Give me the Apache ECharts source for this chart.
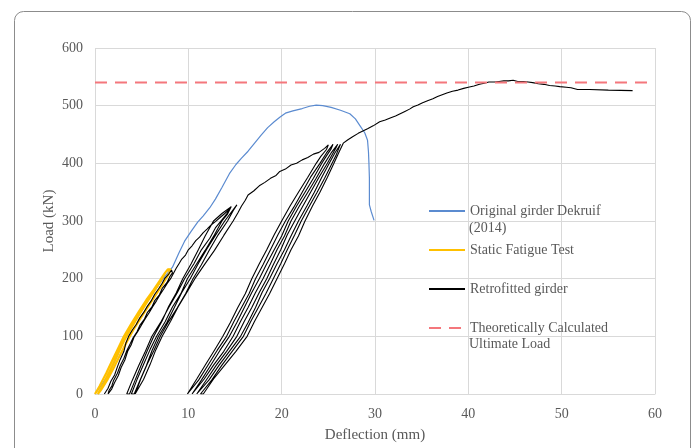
<!DOCTYPE html>
<html>
<head>
<meta charset="utf-8">
<script src="https://cdn.jsdelivr.net/npm/echarts@6/dist/echarts.min.js"></script>
<style>
  html, body { margin: 0; padding: 0; background: #ffffff; }
  #chart { width: 697px; height: 448px; }
</style>
</head>
<body>
<div id="chart"></div>
<script>
// ---- Data (deflection mm, load kN) ----
const seriesNames = ['Original girder Dekruif', 'Static Fatigue Test', 'Retrofitted girder', 'Theoretically Calculated'];
const legendSecondLines = ['(2014)', 'Ultimate Load'];
const xTicks = [0, 10, 20, 30, 40, 50, 60];
const yTicks = [0, 100, 200, 300, 400, 500, 600];

const originalGirder = [
  [0,0],[0.8,18],[1.6,38],[2.5,70],[3.3,100],[4.2,124],[5.2,150],[6.2,175],[7.2,198],[8.3,220],
  [9.0,245],[9.6,265],[10.3,282],[11.0,298],[11.6,309],[12.3,323],[12.9,338],[13.6,358],[14.4,382],
  [15.1,398],[15.7,409],[16.4,421],[17.1,435],[17.8,449],[18.5,462],[19.2,472],[19.8,480],[20.4,487],
  [21.2,491],[22.2,495],[23.0,499],[23.7,501],[24.4,500],[25.3,497],[26.3,492],[27.3,486],[27.9,477],
  [28.4,465],[28.9,453],[29.2,440],[29.3,420],[29.35,400],[29.4,375],[29.4,350],[29.4,328],[29.6,316],[29.9,301]
];

const staticFatigue = [
  [0,0],[0.5,14],[1.2,36],[1.9,60],[2.5,80],[3.1,100],[3.9,122],[4.7,143],[5.5,163],[6.3,181],[7.0,198],[7.5,210],[7.8,216],[8.1,216],
  [7.9,208],[7.3,192],[6.5,172],[5.7,152],[4.9,132],[4.1,111],[3.4,90],[2.7,68],[2.0,45],[1.3,24],[0.6,6],[0.3,0],
  [0.4,0],[1.0,20],[1.7,44],[2.4,68],[3.1,92],[3.8,112],[4.6,134],[5.4,155],[6.2,175],[7.0,195],[7.6,212],[8.0,217]
];

const retrofitted = [
  // first cycles
  [1.0,0],[1.4,10],[1.7,22],[2.1,33],[2.4,47],[2.7,60],[3.1,74],[3.3,88],[3.6,100],[4.0,111],[4.4,120],[4.8,132],
  [5.2,141],[5.6,152],[6.0,161],[6.4,173],[6.8,182],[7.2,192],[7.5,201],[7.9,208],[8.2,215],
  [8.3,210],[8.0,203],[7.7,193],[7.2,183],[6.9,172],[6.4,162],[6.1,151],[5.6,141],[5.3,130],[4.8,119],[4.5,108],
  [4.1,98],[3.8,88],[3.4,75],[3.1,62],[2.7,49],[2.4,36],[2.0,24],[1.8,14],[1.5,6],[1.4,0],
  [1.5,0],[1.8,9],[2.1,20],[2.5,32],[2.8,46],[3.2,59],[3.5,74],[3.9,86],[4.2,99],[4.6,109],[5.0,120],[5.4,131],
  [5.8,141],[6.2,152],[6.6,162],[7.0,173],[7.4,183],[7.7,191],[8.1,200],[8.4,209],[8.7,218],
  // envelope
  [9.0,226],[9.3,234],[9.7,241],[10.0,250],[10.4,257],[10.8,266],[11.2,272],[11.6,280],[12.0,286],[12.5,294],
  [12.9,299],[13.4,306],[13.9,313],[14.5,322],
  // second cycles
  [14.1,312],[13.6,302],[12.9,288],[12.3,270],[11.4,250],[10.6,226],[9.6,200],[8.8,175],[7.9,150],[7.1,126],[6.1,100],[5.4,74],[4.7,50],[4.0,24],[3.4,0],
  [3.7,0],[4.3,24],[5.0,52],[5.6,75],[6.3,100],[7.2,127],[7.9,152],[8.7,175],[9.4,200],[10.3,226],[11.1,251],[11.8,274],[12.7,300],[13.6,313],[14.6,325],
  [14.2,312],[13.6,300],[12.8,276],[11.8,249],[10.9,226],[9.9,200],[9.2,174],[8.3,151],[7.5,125],[6.6,100],[5.9,77],[5.2,51],[4.5,25],[3.9,0],
  [4.2,0],[4.8,23],[5.5,49],[6.1,75],[6.8,100],[7.7,124],[8.5,150],[9.3,176],[10.2,200],[11.1,227],[12.0,252],[12.9,275],[13.9,300],[14.5,313],[15.2,328],
  [14.8,318],[14.2,300],[13.2,276],[12.3,251],[11.4,224],[10.5,200],[9.7,174],[8.8,149],[7.9,126],[7.0,100],[6.3,75],[5.6,52],[4.9,26],[4.3,0],
  [4.5,0],[5.2,25],[5.9,51],[6.5,76],[7.2,100],[8.1,126],[8.9,151],[9.8,175],[10.7,200],[11.8,226],[12.8,249],[13.8,275],[14.8,300],[15.3,314],[15.7,326],[16.1,336],[16.4,345],
  // envelope
  [17.0,352],[17.6,361],[18.2,367],[18.8,374],[19.4,379],[19.8,386],[20.4,390],[21.0,397],[21.6,400],
  [22.2,406],[22.8,410],[23.4,416],[24.0,419],[24.6,426],[25.0,432],
  // third cycles
  [24.8,424],[24.2,412],[23.7,400],[22.8,376],[21.8,350],[20.9,326],[20.0,300],[19.2,276],[18.4,250],[17.6,226],[16.8,200],[16.1,174],[15.3,150],[14.5,124],[13.7,100],[12.8,76],[11.8,50],[10.9,26],[9.9,0],
  [10.1,0],[11.1,24],[12.1,50],[13.1,76],[14.1,100],[14.9,126],[15.7,150],[16.5,174],[17.2,200],[18.0,224],[18.8,250],[19.6,276],[20.4,300],[21.3,324],[22.2,350],[23.1,376],[24.1,400],[24.8,418],[25.5,433],
  [25.3,425],[24.8,413],[24.3,400],[23.4,374],[22.5,350],[21.6,326],[20.7,300],[20.0,274],[19.2,250],[18.4,226],[17.6,200],[16.8,176],[16.0,150],[15.2,124],[14.4,100],[13.4,76],[12.4,50],[11.4,24],[10.4,0],
  [10.6,0],[11.7,26],[12.7,50],[13.8,74],[14.8,100],[15.6,126],[16.4,150],[17.2,176],[18.0,200],[18.8,226],[19.5,250],[20.3,274],[21.0,300],[21.9,326],[22.8,350],[23.7,374],[24.6,400],[25.3,418],[26.0,433],
  [25.8,426],[25.3,412],[24.9,400],[24.0,376],[23.1,350],[22.2,324],[21.4,300],[20.6,276],[19.9,250],[19.1,224],[18.4,200],[17.6,176],[16.8,150],[16.0,126],[15.2,100],[14.1,74],[13.0,50],[12.0,26],[10.9,0],
  [11.1,0],[12.2,24],[13.3,50],[14.5,76],[15.6,100],[16.4,124],[17.2,150],[17.9,176],[18.7,200],[19.5,226],[20.3,250],[21.0,274],[21.8,300],[22.7,326],[23.5,350],[24.3,376],[25.1,400],[25.7,418],[26.3,433],
  [26.1,425],[25.8,413],[25.4,400],[24.6,374],[23.8,350],[22.9,324],[22.1,300],[21.4,276],[20.6,250],[19.9,226],[19.1,200],[18.3,174],[17.5,150],[16.7,126],[15.9,100],[14.8,76],[13.6,50],[12.5,24],[11.3,0],
  [11.6,0],[12.7,26],[13.9,50],[15.1,74],[16.3,100],[17.1,126],[17.9,150],[18.7,174],[19.5,200],[20.3,226],[21.0,250],[21.8,274],[22.5,300],[23.3,326],[24.1,350],[24.9,376],[25.6,400],[26.1,418],[26.6,435],
  // final envelope
  [27.1,441],[27.6,446],[28.2,452],[28.7,456],[29.2,460],[29.8,465],[30.5,472],[31.1,475],[31.7,479],
  [32.2,482],[32.7,486],[33.2,490],[33.7,494],[34.1,498],[34.6,501],[35.1,505],[35.7,509],[36.2,512],
  [36.7,516],[37.2,519],[37.7,522],[38.3,525],[38.9,527],[39.5,530],[40.0,532],[40.6,534],[41.2,537],
  [41.7,539],[42.2,541],[42.8,541],[43.3,542],[43.8,543],[44.3,543],[44.8,544],[45.3,542],[45.9,542],
  [46.4,541],[46.9,540],[47.5,538],[48.1,537],[48.7,535],[49.3,534],[49.8,533],[50.5,532],[51.0,531],
  [51.7,528],[53.0,528],[55.0,527],[57.6,526]
];

const theoreticalLoad = [[0,540],[60,540]];

// ---- Chart ----
const textColor = '#595959';
const fontFam = '"Liberation Serif", "DejaVu Serif", serif';

const chart = echarts.init(document.getElementById('chart'), null, { renderer: 'canvas' });

const option = {
  backgroundColor: '#ffffff',
  animation: false,
  textStyle: { fontFamily: fontFam },
  grid: { left: 95, right: 42, top: 48, bottom: 49, containLabel: false },
  xAxis: {
    type: 'value',
    min: xTicks[0], max: xTicks[xTicks.length - 1], interval: 10,
    name: 'Deflection (mm)', nameLocation: 'middle', nameGap: 34, nameMoveOverlap: false,
    nameTextStyle: { color: textColor, fontSize: 15, fontFamily: fontFam },
    axisLine: { show: true, lineStyle: { color: '#d9d9d9' } },
    axisTick: { show: false },
    axisLabel: { color: textColor, fontSize: 14, margin: 13, fontFamily: fontFam },
    splitLine: { show: true, lineStyle: { color: '#d9d9d9' } }
  },
  yAxis: {
    type: 'value',
    min: yTicks[0], max: yTicks[yTicks.length - 1], interval: 100,
    name: 'Load (kN)', nameLocation: 'middle', nameGap: 38, nameMoveOverlap: false,
    nameTextStyle: { color: textColor, fontSize: 15, fontFamily: fontFam },
    axisLine: { show: false },
    axisTick: { show: false },
    axisLabel: { color: textColor, fontSize: 14, margin: 12, fontFamily: fontFam },
    splitLine: { show: true, lineStyle: { color: '#d9d9d9' } }
  },
  legend: {
    orient: 'vertical',
    left: 428, top: 204, padding: 0,
    itemWidth: 36, itemHeight: 14, itemGap: 25,
    itemStyle: { opacity: 0 },
    textStyle: { color: textColor, fontSize: 14, fontFamily: fontFam },
    data: seriesNames
  },
  graphic: [
    { type: 'rect', shape: { x: 14.5, y: 11.5, width: 676, height: 470, r: 9 },
      style: { fill: 'none', stroke: '#8c8c8c', lineWidth: 1 }, z: -10, silent: true },
    { type: 'text', left: 469, top: 221,
      style: { text: legendSecondLines[0], fill: textColor, font: '14px ' + fontFam } },
    { type: 'text', left: 469, top: 337,
      style: { text: legendSecondLines[1], fill: textColor, font: '14px ' + fontFam } }
  ],
  series: [
    { name: seriesNames[0], type: 'line', data: originalGirder, showSymbol: false, symbol: 'none',
      lineStyle: { color: '#5b8bd0', width: 1.2 }, itemStyle: { color: '#5b8bd0' } },
    { name: seriesNames[1], type: 'line', data: staticFatigue, showSymbol: false, symbol: 'none',
      lineStyle: { color: '#ffc000', width: 2.2 }, itemStyle: { color: '#ffc000' } },
    { name: seriesNames[2], type: 'line', data: retrofitted, showSymbol: false, symbol: 'none',
      lineStyle: { color: '#000000', width: 1.1 }, itemStyle: { color: '#000000' } },
    { name: seriesNames[3], type: 'line', data: theoreticalLoad, showSymbol: false, symbol: 'none',
      lineStyle: { color: '#f4777c', width: 2, type: [12, 8] }, itemStyle: { color: '#f4777c' } }
  ]
};
chart.setOption(option);
</script>
</body>
</html>
